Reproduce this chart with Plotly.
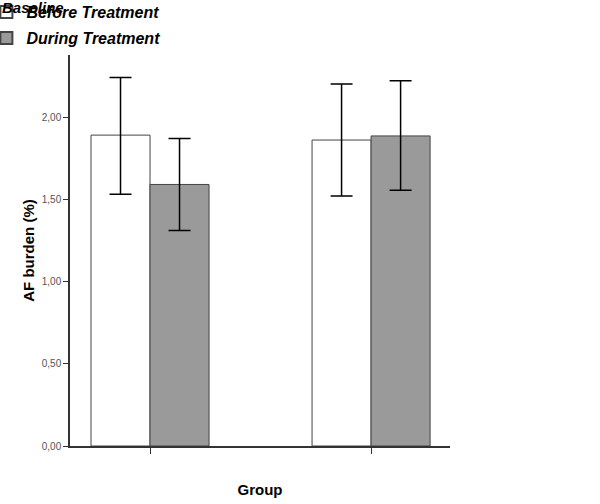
import plotly.graph_objects as go

groups = ["Group A", "Group B"]
before_vals = [1.89, 1.86]
before_err_plus = [0.35, 0.34]
before_err_minus = [0.36, 0.34]
during_vals = [1.59, 1.885]
during_err_plus = [0.28, 0.335]
during_err_minus = [0.28, 0.33]
series_names = ["Before Treatment", "During Treatment"]
legend_title = "Baseline"
y_ticks = [0, 0.5, 1.0, 1.5, 2.0]

font_family = "Liberation Sans, Arial, sans-serif"
bw = 0.267

fig = go.Figure()
fig.add_trace(go.Bar(
    x=groups, y=before_vals, name=series_names[0], legendgroup="a",
    width=bw, offset=-bw,
    marker=dict(color="white", line=dict(color="#444444", width=1)),
    error_y=dict(type="data", symmetric=False, array=before_err_plus,
                 arrayminus=before_err_minus, color="black", thickness=1.5, width=11),
))
fig.add_trace(go.Bar(
    x=groups, y=during_vals, name=series_names[1], legendgroup="b",
    width=bw, offset=0,
    marker=dict(color="#9a9a9a", line=dict(color="#444444", width=1)),
    error_y=dict(type="data", symmetric=False, array=during_err_plus,
                 arrayminus=during_err_minus, color="black", thickness=1.5, width=11),
))

fig.add_annotation(
    text="<b><i>" + legend_title + "</i></b>", xref="paper", yref="paper",
    x=-0.184, y=1.122, xanchor="left", yanchor="middle", showarrow=False,
    font=dict(size=15, family=font_family, color="black"),
)

fig.update_layout(
    width=600, height=504,
    margin=dict(l=70, r=150, t=55, b=58, autoexpand=False),
    paper_bgcolor="white", plot_bgcolor="white",
    barmode="overlay",
    separators=",.",
    font=dict(family=font_family, color="black"),
    showlegend=True,
    legend=dict(
        x=-0.22, y=1.153, xanchor="left", yanchor="top",
        traceorder="grouped", tracegroupgap=2,
        font=dict(size=16, family=font_family, style="italic", weight="bold"),
        itemsizing="constant",
        bgcolor="rgba(0,0,0,0)",
    ),
    xaxis=dict(
        type="category", range=[-0.362, 1.357],
        showline=True, linecolor="#333333", linewidth=1.5,
        ticks="outside", ticklen=6, tickcolor="#333333",
        showticklabels=False, showgrid=False, zeroline=False,
        title=dict(text="<b>Group</b>", font=dict(size=15, family=font_family), standoff=32),
    ),
    yaxis=dict(
        range=[0, 2.377], tickvals=y_ticks, tickformat=".2f",
        showline=True, linecolor="#333333", linewidth=1.5,
        ticks="outside", ticklen=5, tickcolor="#333333",
        tickfont=dict(size=10, color="#555555", family=font_family),
        showgrid=False, zeroline=False,
        title=dict(text="<b>AF burden (%)</b>", font=dict(size=15, family=font_family), standoff=4),
    ),
)

fig.write_html("out.html", config={"displayModeBar": False},
               post_script="document.body.style.margin='0';")
